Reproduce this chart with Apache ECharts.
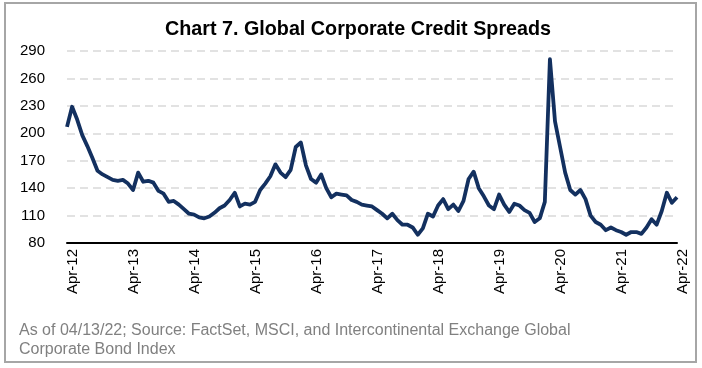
<!DOCTYPE html>
<html>
<head>
<meta charset="utf-8">
<script src="https://cdn.jsdelivr.net/npm/echarts@6/dist/echarts.min.js"></script>
<style>
  html, body { margin: 0; padding: 0; background: #ffffff; }
  #chart { width: 702px; height: 368px; }
</style>
</head>
<body>
<div id="chart"></div>
<script>
// Monthly observations, Apr-2012 .. Apr-2022
var startYear = 12;
var monthNames = ['Jan','Feb','Mar','Apr','May','Jun','Jul','Aug','Sep','Oct','Nov','Dec'];
var categories = [];
for (var k = 0; k < 121; k++) {
  var m = (3 + k) % 12;
  var y = startYear + Math.floor((3 + k) / 12);
  categories.push(monthNames[m] + '-' + (y < 10 ? '0' + y : y));
}

var spreads2012 = [207, 229, 215, 198, 186, 173, 159, 155, 152, 149, 148, 149];
var spreads2013 = [145, 138, 157, 147, 148, 146, 137, 134, 125, 126, 122, 117];
var spreads2014 = [112, 111, 108, 107, 109, 113, 118, 121, 127, 135, 120, 123];
var spreads2015 = [122, 125, 138, 145, 153, 166, 157, 152, 160, 185, 190, 165];
var spreads2016 = [150, 146, 155, 140, 130, 134, 133, 132, 127, 125, 122, 121];
var spreads2017 = [120, 116, 112, 107, 112, 105, 100, 100, 97, 89, 96, 112];
var spreads2018 = [109, 121, 128, 117, 122, 115, 126, 150, 158, 140, 131, 121];
var spreads2019 = [117, 133, 122, 114, 123, 121, 116, 113, 103, 107, 125, 281];
var spreads2020 = [213, 185, 157, 138, 133, 138, 128, 110, 103, 100, 94, 97];
var spreads2021 = [94, 92, 89, 92, 92, 90, 97, 106, 100, 115, 135, 124];
var spreads2022 = [130];

var spreads = [].concat(spreads2012, spreads2013, spreads2014, spreads2015, spreads2016,
  spreads2017, spreads2018, spreads2019, spreads2020, spreads2021, spreads2022);

var yTicks = { min: 80, max: 290, step: 30 };

var titleText = 'Chart 7. Global Corporate Credit Spreads';
var noteLine1 = 'As of 04/13/22; Source: FactSet, MSCI, and Intercontinental Exchange Global';
var noteLine2 = 'Corporate Bond Index';

var chart = echarts.init(document.getElementById('chart'), null, { renderer: 'canvas' });
var option = {
  animation: false,
  backgroundColor: '#ffffff',
  grid: { left: 67, right: 25, top: 51, bottom: 125, containLabel: false },
  xAxis: {
    type: 'category',
    data: categories,
    boundaryGap: false,
    axisLine: { show: true, lineStyle: { color: '#000000', width: 2 } },
    axisTick: { show: false },
    axisLabel: {
      interval: 11,
      rotate: 90,
      margin: 6,
      verticalAlign: 'top',
      lineHeight: 11,
      color: '#000000',
      fontFamily: 'Liberation Sans, Arial, sans-serif',
      fontSize: 15
    },
    splitLine: { show: false }
  },
  yAxis: {
    type: 'value',
    min: yTicks.min,
    max: yTicks.max,
    interval: yTicks.step,
    axisLine: { show: false },
    axisTick: { show: false },
    axisLabel: {
      margin: 22,
      color: '#000000',
      fontFamily: 'Liberation Sans, Arial, sans-serif',
      fontSize: 15
    },
    splitLine: {
      show: true,
      lineStyle: { color: '#d9d9d9', width: 1.5, type: [8, 5] }
    }
  },
  series: [{
    type: 'line',
    data: spreads,
    symbol: 'none',
    smooth: false,
    lineStyle: { color: '#13305f', width: 3.8, join: 'round' },
    z: 3
  }],
  graphic: [
    {
      type: 'rect',
      shape: { x: 5, y: 3, width: 691, height: 359 },
      style: { fill: 'none', stroke: '#a6a6a6', lineWidth: 2 },
      silent: true
    },
    {
      type: 'text',
      x: 358,
      y: 29,
      scaleX: 0.94,
      style: {
        text: titleText,
        fill: '#000000',
        align: 'center',
        verticalAlign: 'middle',
        font: 'bold 21px "Liberation Sans", Arial, sans-serif'
      }
    },
    {
      type: 'text',
      left: 19,
      top: 321,
      style: {
        text: noteLine1 + '\n' + noteLine2,
        fill: '#808080',
        lineHeight: 19,
        font: '16px "Liberation Sans", Arial, sans-serif'
      }
    }
  ]
};
chart.setOption(option);
</script>
</body>
</html>
